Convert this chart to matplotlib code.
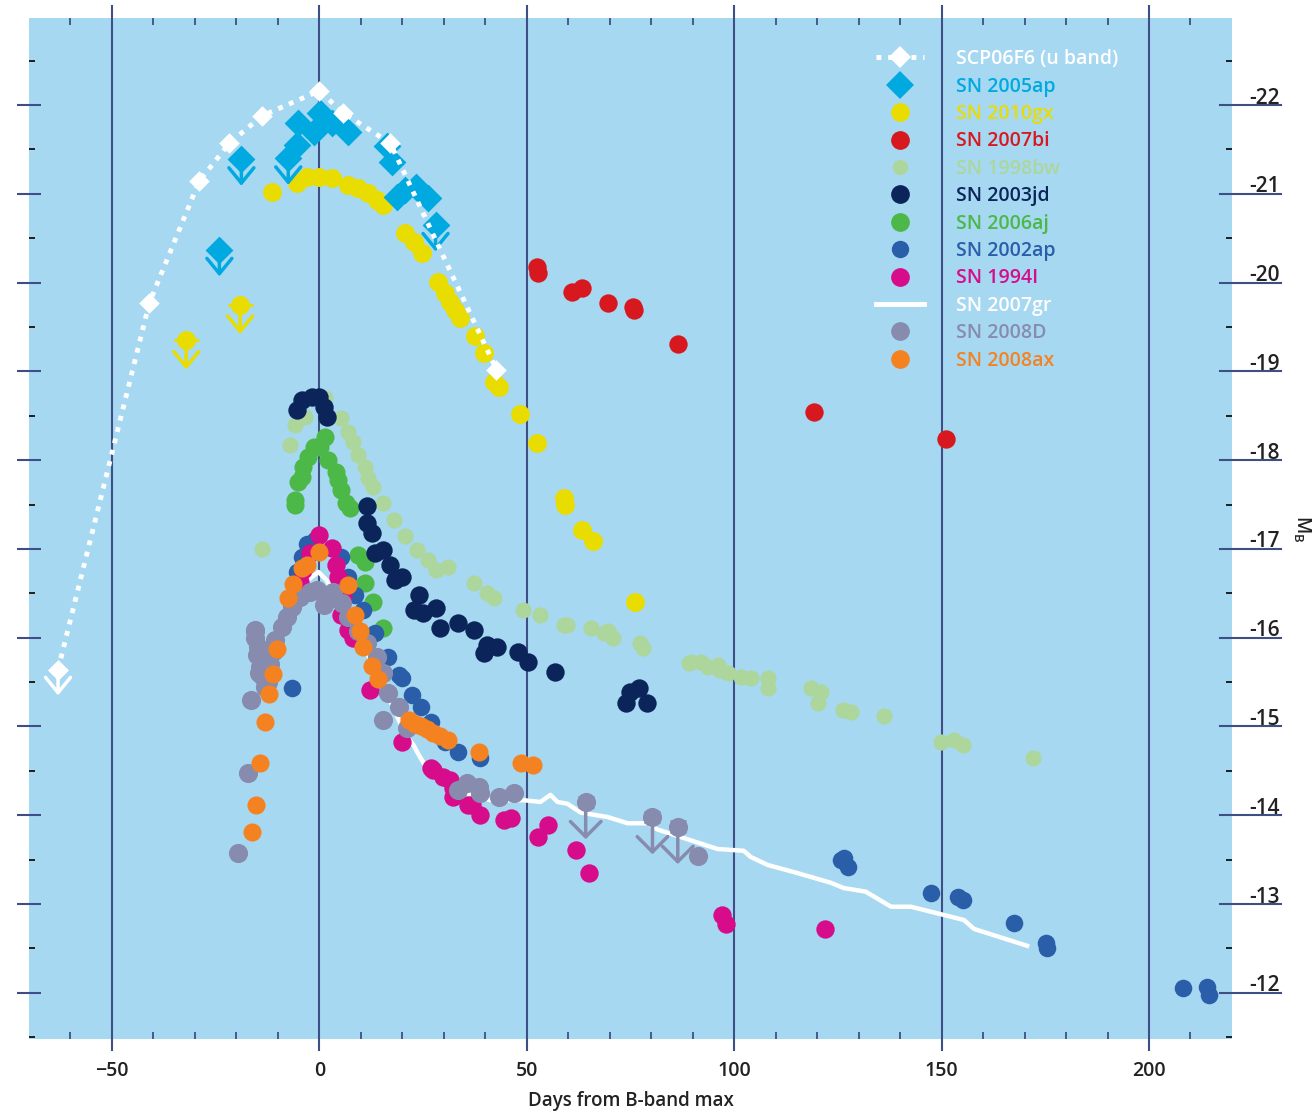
import matplotlib
matplotlib.use("Agg")
from matplotlib import pyplot as plt
from matplotlib.lines import Line2D

plt.rcParams['font.family'] = ['Open Sans', 'DejaVu Sans']

# ---- light curves: days from B-band max, absolute magnitude M_B ----
scp06f6_day = [-63.0, -41.0, -29.0, -21.7, -13.75, 0.0, 5.8, 17.1, 42.7]
scp06f6_mag = [-15.64, -19.77, -21.14, -21.57, -21.88, -22.16, -21.91, -21.57, -19.02]
scp06f6_lim_day = [-63.0]
scp06f6_lim_mag = [-15.64]

sn2005ap_day = [-5.3, -5.1, -1.4, 0.2, 3.1, 6.8, 16.4, 17.6, 18.8, 20.7, 23.2, 26.1]
sn2005ap_mag = [-21.55, -21.80, -21.70, -21.91, -21.80, -21.70, -21.54, -21.36, -20.96, -21.04, -21.08, -20.95]
sn2005ap_lim_day = [-24.1, -18.8, -7.5, 28.0]
sn2005ap_lim_mag = [-20.37, -21.39, -21.40, -20.65]

sn2010gx_day = [-11.3, -5.3, -2.9, -0.2, 3.1, 7.0, 9.4, 11.8, 14.0, 15.4, 20.7, 22.7, 24.8, 28.7,
                30.4, 31.6, 32.8, 34.0, 37.4, 39.6, 42.2, 43.4, 48.3, 52.4, 58.9, 59.3, 63.4, 65.9, 76.2]
sn2010gx_mag = [-21.02, -21.12, -21.19, -21.19, -21.18, -21.10, -21.07, -21.01, -20.93, -20.87, -20.56, -20.46, -20.33, -20.01,
                -19.88, -19.78, -19.69, -19.60, -19.40, -19.21, -18.88, -18.82, -18.52, -18.19, -17.57, -17.50, -17.21, -17.09, -16.40]
sn2010gx_lim_day = [-32.1, -19.1]
sn2010gx_lim_mag = [-19.35, -19.75]

sn2007bi_day = [52.4, 52.8, 61.0, 63.4, 69.7, 75.5, 75.8, 86.4, 119.2, 151.0]
sn2007bi_mag = [-20.17, -20.11, -19.89, -19.94, -19.77, -19.73, -19.69, -19.31, -18.54, -18.24]

sn1998bw_day = [-13.75, -7.0, -5.8, -3.4, 1.4, 5.1, 7.0, 8.2, 9.2, 11.1, 11.8, 13.0, 15.4, 17.9, 20.7, 23.6,
                26.1, 28.0, 31.1, 37.2, 40.5, 42.0, 49.2, 53.3, 58.9, 59.8, 65.4, 68.5, 69.5, 70.9, 77.4, 77.9,
                89.0, 89.5, 91.9, 93.6, 96.0, 96.7, 98.4, 101.6, 104.0, 108.1, 108.1, 118.5, 120.9, 120.1,
                126.2, 128.1, 136.1, 149.8, 153.0, 155.1, 172.0]
sn1998bw_mag = [-17.00, -18.17, -18.40, -18.49, -18.70, -18.48, -18.32, -18.20, -18.06, -17.92, -17.80, -17.70, -17.52, -17.33, -17.14, -16.99,
                -16.88, -16.76, -16.80, -16.62, -16.50, -16.45, -16.31, -16.26, -16.14, -16.14, -16.11, -16.05, -16.07, -16.00, -15.94, -15.88,
                -15.72, -15.73, -15.73, -15.67, -15.69, -15.64, -15.60, -15.56, -15.55, -15.55, -15.43, -15.43, -15.39, -15.27,
                -15.19, -15.16, -15.12, -14.83, -14.85, -14.79, -14.65]

sn2003jd_day = [-5.3, -4.1, -1.7, -0.2, 1.0, 1.9, 11.6, 11.6, 12.8, 13.5, 15.4, 17.1, 18.3, 20.0, 22.7, 23.9,
                25.1, 28.0, 29.2, 33.3, 37.2, 39.6, 40.5, 42.9, 48.0, 50.2, 56.9, 73.8, 75.0, 77.0, 79.1]
sn2003jd_mag = [-18.57, -18.68, -18.71, -18.71, -18.60, -18.49, -17.48, -17.29, -17.18, -16.95, -16.99, -16.82, -16.65, -16.68, -16.31, -16.48,
                -16.28, -16.34, -16.11, -16.17, -16.09, -15.83, -15.92, -15.90, -15.84, -15.73, -15.61, -15.27, -15.39, -15.43, -15.27]

sn2006aj_day = [-5.8, -5.8, -5.1, -4.1, -3.9, -2.7, -1.4, 0.2, 1.4, 2.2, 3.9, 4.6, 5.1, 6.3, 7.5, 9.4, 11.1, 11.1, 13.0, 15.4]
sn2006aj_mag = [-17.50, -17.55, -17.75, -17.81, -17.92, -18.04, -18.15, -18.15, -18.26, -18.00, -17.87, -17.78, -17.66, -17.52, -17.46,
                -16.93, -16.85, -16.62, -16.40, -16.11]

sn2002ap_day = [-6.5, -5.3, -4.1, -3.1, -1.0, 5.1, 7.0, 8.7, 10.6, 13.5, 16.6, 19.1, 20.0, 22.4, 24.4, 26.8, 30.4, 33.5, 38.8,
                125.7, 126.4, 127.4, 147.4, 153.9, 155.1, 167.4, 175.2, 175.4, 208.2, 214.0, 214.5]
sn2002ap_mag = [-15.43, -16.74, -16.91, -17.05, -17.10, -16.91, -16.68, -16.48, -16.31, -16.05, -15.78, -15.58, -15.55, -15.36, -15.22,
                -15.05, -14.83, -14.71, -14.65, -13.50, -13.52, -13.42, -13.13, -13.08, -13.05, -12.79, -12.56, -12.50, -12.05, -12.06, -11.98]

sn1994i_day = [-4.6, -3.9, -2.2, -0.2, 3.1, 3.9, 4.6, 5.1, 5.8, 7.0, 8.0, 12.3, 20.0, 26.8, 27.3, 29.7, 31.6, 32.3, 32.3,
               35.9, 36.9, 38.8, 44.4, 46.1, 52.8, 55.0, 61.8, 64.9, 97.0, 98.0, 121.8]
sn1994i_mag = [-16.63, -16.76, -16.95, -17.16, -17.01, -16.82, -16.68, -16.26, -16.46, -16.09, -16.00, -15.41, -14.83, -14.53, -14.51,
               -14.43, -14.40, -14.31, -14.21, -14.12, -14.12, -14.00, -13.95, -13.97, -13.76, -13.89, -13.61, -13.35, -12.88, -12.77, -12.72]

sn2007gr_day = [-4.6, -2.2, -0.2, 1.7, 7.5, 14.7, 20.7, 22.7, 23.6, 25.1, 31.6, 41.3, 49.2, 53.3, 55.7, 57.4, 59.8, 63.0,
                69.5, 74.3, 79.1, 81.5, 96.0, 102.3, 104.0, 108.1, 114.4, 123.3, 126.4, 131.7, 137.8, 142.6, 155.4, 157.8, 170.6]
sn2007gr_mag = [-16.54, -16.67, -16.74, -16.65, -16.20, -15.53, -14.91, -14.79, -14.71, -14.59, -14.29, -14.17, -14.17, -14.15, -14.23,
                -14.15, -14.13, -14.03, -13.98, -13.91, -13.91, -13.84, -13.62, -13.60, -13.53, -13.44, -13.36, -13.24, -13.18, -13.14,
                -12.97, -12.97, -12.82, -12.72, -12.53]

sn2008d_day = [-19.5, -17.1, -16.6, -15.6, -15.4, -15.4, -15.0, -14.8, -14.5, -14.2, -13.5, -13.0, -12.5, -11.8, -11.0, -10.6,
               -8.9, -7.7, -6.5, -4.6, -2.2, -0.5, 1.0, 3.4, 5.5, 7.0, 9.2, 11.6, 14.0, 15.4, 15.4, 16.6, 19.1, 21.2,
               33.3, 35.7, 38.4, 38.8, 43.2, 46.8, 91.2]
sn2008d_mag = [-13.58, -14.48, -15.30, -16.00, -16.07, -16.09, -15.80, -15.90, -15.60, -15.67, -15.56, -15.45, -15.50, -15.70, -15.85,
               -15.97, -16.12, -16.23, -16.35, -16.46, -16.52, -16.54, -16.37, -16.52, -16.39, -16.23, -16.07, -15.94, -15.78, -15.60,
               -15.07, -15.38, -15.22, -14.98, -14.29, -14.36, -14.32, -14.25, -14.21, -14.25, -13.54]
sn2008d_lim_day = [64.2, 80.3, 86.4]
sn2008d_lim_mag = [-14.15, -13.98, -13.87]

sn2008ax_day = [-16.2, -15.2, -14.2, -13.0, -12.1, -11.1, -10.1, -7.5, -6.3, -4.1, -2.9, -0.2, 6.8, 8.7, 9.7, 10.6, 12.8, 14.2,
                21.5, 23.0, 24.4, 26.0, 27.5, 29.0, 30.9, 38.4, 48.5, 51.6]
sn2008ax_mag = [-13.81, -14.12, -14.59, -15.05, -15.37, -15.59, -15.87, -16.45, -16.61, -16.79, -16.82, -16.97, -16.59, -16.26, -16.08,
                -15.90, -15.68, -15.54, -15.07, -15.03, -15.00, -14.97, -14.93, -14.89, -14.85, -14.71, -14.59, -14.57]

x_ticks = [-50, 0, 50, 100, 150, 200]
y_ticks = [-22, -21, -20, -19, -18, -17, -16, -15, -14, -13, -12]

# colours
bg = '#a7d8f2'
navy = '#3d4f85'
c_scp = 'white'
c_05ap = '#00a9e0'
c_10gx = '#e8dc00'
c_07bi = '#d7191f'
c_98bw = '#acd69c'
c_03jd = '#0b2459'
c_06aj = '#4cb848'
c_02ap = '#2a5ea8'
c_94i = '#d70c8b'
c_07gr = 'white'
c_08d = '#878cae'
c_08ax = '#f58220'

fig = plt.figure(figsize=(13.12, 11.13), dpi=100)
ax = fig.add_axes([0.0221, 0.0665, 0.9169, 0.9173])
ax.set_facecolor(bg)
for s in ax.spines.values():
    s.set_visible(False)

ax.set_xlim(-70, 220)
ax.set_ylim(-11.48, -22.98)

# vertical grid lines poke out past the frame
for xv in x_ticks:
    ax.axvline(xv, ymin=-0.011, ymax=1.012, color=navy, lw=1.5, clip_on=False, zorder=1)


def upper_limits(days, mags, color, size, drop, xerr=None, ycaps=False, marker='o', head=0.45):
    if xerr is not None:
        ax.errorbar(days, mags, xerr=xerr, fmt='none', ecolor=color, elinewidth=2.2, capsize=0, zorder=6)
    if ycaps:
        ax.errorbar(days, mags, yerr=0.06, fmt='none', ecolor=color, elinewidth=1.5, capsize=6, capthick=2, zorder=6)
    ax.scatter(days, mags, s=size, color=color, marker=marker, linewidths=0, zorder=6)
    for d, m in zip(days, mags):
        ax.annotate('', xy=(d, m + drop), xytext=(d, m),
                    arrowprops=dict(arrowstyle='->,head_length=0.55,head_width=%.2f' % head, color=color,
                                    lw=2.5, shrinkA=0, shrinkB=0, mutation_scale=20), zorder=6)


# light curves, back to front
ax.scatter(sn1998bw_day, sn1998bw_mag, s=135, color=c_98bw, linewidths=0, zorder=3)
ax.scatter(sn2006aj_day, sn2006aj_mag, s=170, color=c_06aj, linewidths=0, zorder=3)
ax.scatter(sn2003jd_day, sn2003jd_mag, s=175, color=c_03jd, linewidths=0, zorder=3)
ax.scatter(sn2002ap_day, sn2002ap_mag, s=160, color=c_02ap, linewidths=0, zorder=3)
ax.plot(sn2007gr_day, sn2007gr_mag, color=c_07gr, lw=3.2, zorder=3)
ax.scatter(sn1994i_day, sn1994i_mag, s=175, color=c_94i, linewidths=0, zorder=4)
ax.scatter(sn2008d_day, sn2008d_mag, s=190, color=c_08d, linewidths=0, zorder=4)
ax.scatter(sn2008ax_day, sn2008ax_mag, s=170, color=c_08ax, linewidths=0, zorder=5)
upper_limits(sn2008d_lim_day, sn2008d_lim_mag, c_08d, 190, 0.42, ycaps=True, head=0.55)

ax.scatter(sn2007bi_day, sn2007bi_mag, s=175, color=c_07bi, linewidths=0, zorder=5)
ax.scatter(sn2010gx_day, sn2010gx_mag, s=185, color=c_10gx, linewidths=0, zorder=5)
upper_limits(sn2010gx_lim_day, sn2010gx_lim_mag, c_10gx, 185, 0.33, xerr=3.0)

ax.scatter(sn2005ap_day, sn2005ap_mag, s=200, color=c_05ap, marker='D', linewidths=0, zorder=6)
upper_limits(sn2005ap_lim_day, sn2005ap_lim_mag, c_05ap, 200, 0.3, marker='D')

ax.plot(scp06f6_day, scp06f6_mag, color=c_scp, lw=3.5, linestyle=(0, (1, 1.4)), dash_capstyle='butt', zorder=7)
ax.scatter(scp06f6_day, scp06f6_mag, s=110, color=c_scp, marker='D', linewidths=0, zorder=7)
upper_limits(scp06f6_lim_day, scp06f6_lim_mag, c_scp, 110, 0.29, xerr=2.0, marker='D')

# axes ticks
ax.set_xticks(x_ticks)
ax.set_xticks([v for v in range(-60, 220, 10) if v % 50 != 0], minor=True)
ax.tick_params(axis='x', which='major', direction='out', length=0, pad=16, labelsize=14, labelcolor='#222222')
ax.tick_params(axis='x', which='minor', direction='in', length=5, width=1.3, color=navy, top=True, bottom=True)
ax.set_yticks(y_ticks)
ax.set_yticks([v + 0.5 for v in range(-23, -11)], minor=True)
ax.tick_params(axis='y', which='major', direction='inout', length=17, width=1.5, color=navy,
               left=True, right=False, labelleft=False)
ax.tick_params(axis='y', which='minor', direction='in', length=4.5, width=1.3, color='#111111',
               left=True, right=True)
for lab in ax.get_xticklabels():
    lab.set_fontweight('semibold')

# magnitude scale on the right, label sitting on its tick line
ytr = ax.get_yaxis_transform()
for yv in y_ticks:
    ax.plot([0.990, 1.0407], [yv, yv], transform=ytr, color=navy, lw=1.5, clip_on=False, zorder=2)
    ax.text(1.0395, yv + 0.04, str(yv), transform=ytr, ha='right', va='bottom',
            fontsize=15, fontweight='semibold', color='#222222')

ax.set_xlabel('Days from B-band max', fontsize=13.5, fontweight='semibold', color='#222222', labelpad=7)
ax.text(1.058, 0.5, r'M$_\mathregular{B}$', transform=ax.transAxes, rotation=270,
        ha='center', va='center', fontsize=13.5, fontweight='semibold', color='#222222')

# legend
handles = [
    Line2D([], [], color=c_scp, lw=3.5, linestyle=(0, (1, 1.4)), marker='D', markersize=11, markeredgewidth=0),
    Line2D([], [], color=c_05ap, lw=0, marker='D', markersize=14, markeredgewidth=0),
    Line2D([], [], color=c_10gx, lw=0, marker='o', markersize=13.5, markeredgewidth=0),
    Line2D([], [], color=c_07bi, lw=0, marker='o', markersize=13.5, markeredgewidth=0),
    Line2D([], [], color=c_98bw, lw=0, marker='o', markersize=11, markeredgewidth=0),
    Line2D([], [], color=c_03jd, lw=0, marker='o', markersize=13.5, markeredgewidth=0),
    Line2D([], [], color=c_06aj, lw=0, marker='o', markersize=13.5, markeredgewidth=0),
    Line2D([], [], color=c_02ap, lw=0, marker='o', markersize=12.5, markeredgewidth=0),
    Line2D([], [], color=c_94i, lw=0, marker='o', markersize=13.5, markeredgewidth=0),
    Line2D([], [], color=c_07gr, lw=3.5),
    Line2D([], [], color=c_08d, lw=0, marker='o', markersize=13.5, markeredgewidth=0),
    Line2D([], [], color=c_08ax, lw=0, marker='o', markersize=13.5, markeredgewidth=0),
]
labels = ['SCP06F6 (u band)', 'SN 2005ap', 'SN 2010gx', 'SN 2007bi', 'SN 1998bw', 'SN 2003jd',
          'SN 2006aj', 'SN 2002ap', 'SN 1994I', 'SN 2007gr', 'SN 2008D', 'SN 2008ax']
colors = [c_scp, c_05ap, c_10gx, c_07bi, c_98bw, c_03jd, c_06aj, c_02ap, c_94i, c_07gr, c_08d, c_08ax]
leg = ax.legend(handles, labels, loc='upper left', bbox_to_anchor=(0.698, 0.977), frameon=False,
                prop={'size': 14, 'weight': 'semibold'}, handlelength=2.43, handletextpad=1.64,
                labelspacing=0.38, borderaxespad=0)
leg.set_zorder(10)
for t, c in zip(leg.get_texts(), colors):
    t.set_color(c)

plt.savefig('out.png', dpi=100)
plt.close()
